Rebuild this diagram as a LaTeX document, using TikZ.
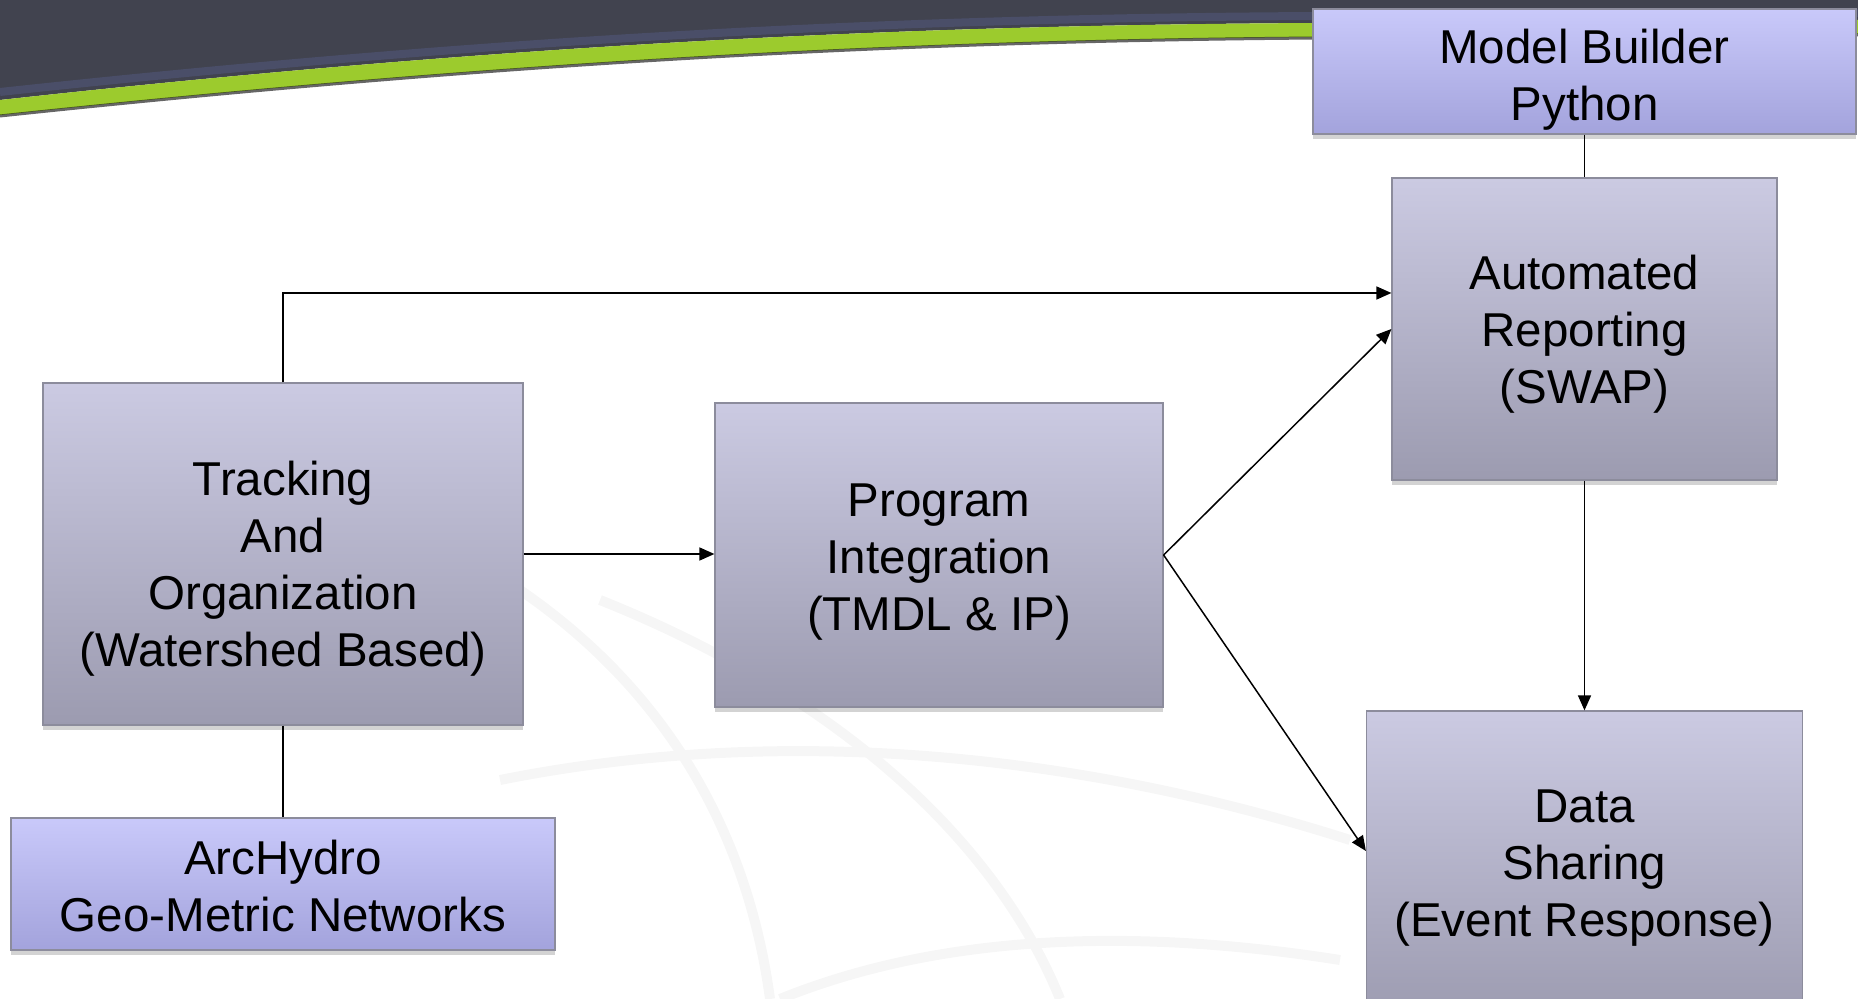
\documentclass[tikz,border=0pt]{standalone}
\usepackage{fontspec}
\setmainfont{Liberation Sans}
\usetikzlibrary{arrows.meta,shadows}

\definecolor{banner}{HTML}{41434F}
\definecolor{bannerblue}{HTML}{4E5373}
\definecolor{stripe}{HTML}{9CCB2D}
\definecolor{boxtop}{HTML}{CBCAE2}
\definecolor{boxbot}{HTML}{9C9BB0}
\definecolor{tooltop}{HTML}{C9C9FA}
\definecolor{toolbot}{HTML}{A3A3DC}
\definecolor{boxedge}{HTML}{8C8C9C}
\definecolor{globe}{HTML}{F6F6F6}

% raises the first line so the text sits a little lower in its box
\newcommand{\dropto}[1]{\rule{0pt}{#1}}

\begin{document}
\begin{tikzpicture}[x=0.5pt,y=-0.5pt,
  procbox/.style={draw=boxedge, line width=0.6pt, top color=boxtop, bottom color=boxbot,
    inner sep=0pt, align=center, font=\fontsize{23.75}{28.5}\selectfont,
    drop shadow={shadow xshift=0pt, shadow yshift=-2.5pt, opacity=0.35}},
  toolbox/.style={procbox, top color=tooltop, bottom color=toolbot},
  line/.style={line width=0.75pt},
  link/.style={line, -{Triangle[length=7.5pt,width=6.5pt]}}]
  \useasboundingbox (0,0) rectangle (1858,999);

  % banner with the green stripe
  \fill[banner] (0,0) -- (1858,0) -- (1858,20) -- (1320,23)
        .. controls (900,25) and (500,45) .. (0,100) -- cycle;
  \draw[bannerblue, line width=4pt, opacity=0.7] (0,92) .. controls (500,38) and (900,18) .. (1320,16) -- (1858,13);
  \fill[stripe] (0,100) .. controls (500,45) and (900,25) .. (1320,23) -- (1858,20)
        -- (1858,34) -- (1320,37) .. controls (900,40) and (500,62) .. (0,115) -- cycle;
  \draw[black, line width=1.5pt, opacity=0.6] (0,116) .. controls (500,63) and (900,41) .. (1320,38) -- (1858,35);

  % faint globe in the background
  \begin{scope}[globe, line width=5pt]
    \draw (520,590) .. controls (680,700) and (750,850) .. (770,999);
    \draw (600,600) .. controls (850,700) and (1000,850) .. (1060,999);
    \draw (500,780) .. controls (800,720) and (1100,760) .. (1350,840);
    \draw (780,999) .. controls (950,930) and (1150,930) .. (1340,960);
  \end{scope}

  \node[toolbox, minimum width=271.5pt, minimum height=62.5pt] (modelb) at (1584.5,71.5) {\dropto{25pt}Model Builder\\Python};
  \node[procbox, minimum width=192.5pt, minimum height=151pt] (autorep) at (1584.5,329) {\dropto{22pt}Automated\\Reporting\\(SWAP)};
  \node[procbox, minimum width=240pt, minimum height=171pt] (track) at (283,554) {\dropto{32pt}Tracking\\And\\Organization\\(Watershed Based)};
  \node[toolbox, minimum width=272pt, minimum height=66pt] (arch) at (283,884) {\dropto{19pt}ArcHydro\\Geo-Metric Networks};
  \node[procbox, minimum width=224pt, minimum height=152pt] (progint) at (939,555) {\dropto{23pt}Program\\Integration\\(TMDL \& IP)};
  \node[procbox, minimum width=218pt, minimum height=154pt] (datash) at (1584.5,865) {\dropto{19.5pt}Data\\Sharing\\(Event Response)};

  \draw[line] (modelb) -- (autorep);
  \draw[line] (track) -- (arch);
  \draw[link] (track.north) |- ([yshift=18pt]autorep.west);
  \draw[link] (track.east) -- (track.east -| progint.west);
  \draw[link] (progint.east) -- (autorep.west);
  \draw[link] (progint.east) -- ([yshift=7pt]datash.west);
  \draw[link] (autorep) -- (datash);
\end{tikzpicture}
\end{document}
